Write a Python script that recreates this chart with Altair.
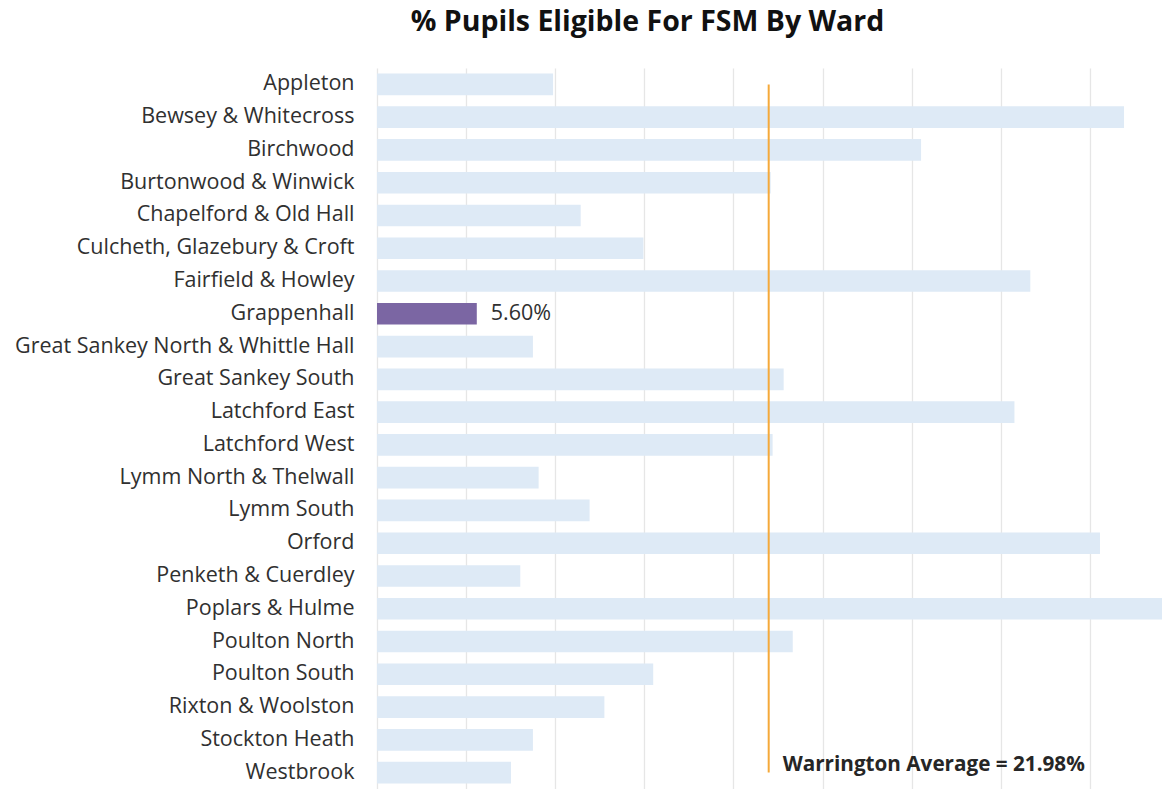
import altair as alt
import pandas as pd

wards = [
    "Appleton", "Bewsey & Whitecross", "Birchwood", "Burtonwood & Winwick",
    "Chapelford & Old Hall", "Culcheth, Glazebury & Croft", "Fairfield & Howley",
    "Grappenhall", "Great Sankey North & Whittle Hall", "Great Sankey South",
    "Latchford East", "Latchford West", "Lymm North & Thelwall", "Lymm South",
    "Orford", "Penketh & Cuerdley", "Poplars & Hulme", "Poulton North",
    "Poulton South", "Rixton & Woolston", "Stockton Heath", "Westbrook",
]
values = [9.88, 41.92, 30.53, 22.09, 11.43, 14.95, 36.66, 5.60, 8.75, 22.82,
          35.77, 22.20, 9.07, 11.93, 40.57, 8.04, 44.6, 23.33, 15.50, 12.76,
          8.75, 7.52]
highlight = "Grappenhall"
average = 21.98
average_label = "Warrington Average = 21.98%"
title = "% Pupils Eligible For FSM By Ward"

df = pd.DataFrame({"ward": wards, "value": values})
df["hl"] = df["ward"] == highlight
df["label"] = df["value"].map(lambda v: f"{v:.2f}%")

avg_df = pd.DataFrame({"avg": [average], "y1": [wards[0]], "y2": [wards[-1]],
                       "label": [average_label]})

font = "Open Sans"

xscale = alt.Scale(domain=[0, 44.05], nice=False, zero=True)
yscale = alt.Scale(domain=wards, paddingInner=0.34, paddingOuter=0.17)

x_axis = alt.Axis(values=[0, 5, 10, 15, 20, 25, 30, 35, 40], labels=False, ticks=False,
                  domain=False, title=None, grid=True, gridColor="#E6E6E6", gridWidth=1.3)
y_axis = alt.Axis(title=None, ticks=False, domain=False, labelFont=font, labelFontSize=21.5,
                  labelColor="#303030", labelPadding=23, labelLimit=400)

bars = alt.Chart(df).mark_bar(clip=True).encode(
    x=alt.X("value:Q", scale=xscale, axis=x_axis),
    y=alt.Y("ward:N", scale=yscale, axis=y_axis, sort=wards),
    color=alt.condition(alt.datum.hl, alt.value("#7B66A3"), alt.value("#DEEAF6")),
)

hl_label = alt.Chart(df).transform_filter(alt.datum.hl).mark_text(
    align="left", baseline="middle", dx=14, font=font, fontSize=21.5, color="#303030"
).encode(
    x=alt.X("value:Q", scale=xscale),
    y=alt.Y("ward:N", scale=yscale, sort=wards),
    text="label:N",
)

avg_rule = alt.Chart(avg_df).mark_rule(color="#F5A93A", strokeWidth=2).encode(
    x=alt.X("avg:Q", scale=xscale),
    y=alt.Y("y1:N", scale=yscale),
    y2="y2:N",
)

avg_text = alt.Chart(avg_df).mark_text(
    align="left", baseline="middle", dx=14, dy=-8, font=font, fontSize=20.7,
    fontWeight="bold", color="#262626"
).encode(
    x=alt.X("avg:Q", scale=xscale),
    y=alt.Y("y2:N", scale=yscale),
    text="label:N",
)

chart = alt.layer(bars, hl_label, avg_rule, avg_text).properties(
    width=785, height=721,
    autosize=alt.AutoSizeParams(type="none"),
    padding={"left": 377, "top": 68, "right": 0, "bottom": 0},
    title=alt.TitleParams(title, font=font, fontSize=28.5, fontWeight="bold",
                          color="#111111", anchor="middle", dx=-122, offset=32),
).configure_view(stroke=None)

chart.save("out.html", embed_options={"renderer": "svg", "actions": False})
